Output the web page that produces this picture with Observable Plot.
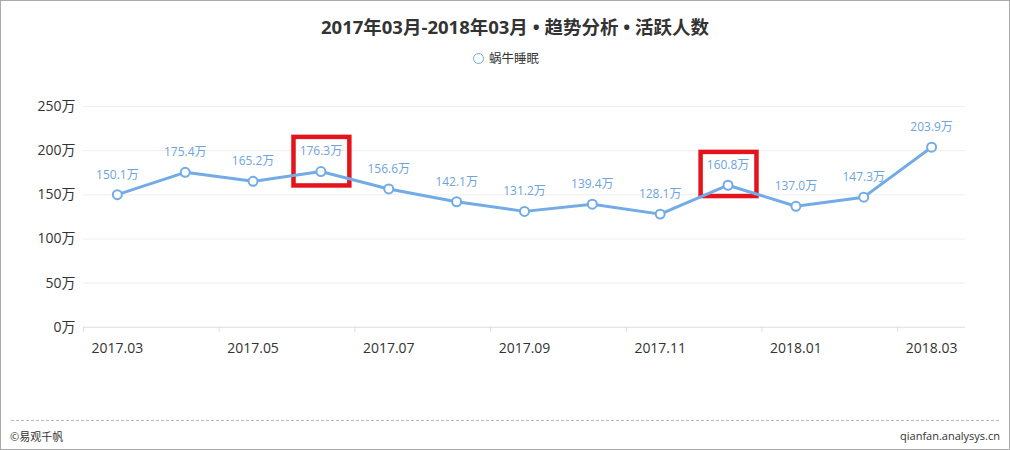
<!DOCTYPE html>
<html>
<head>
<meta charset="utf-8">
<script src="https://cdn.jsdelivr.net/npm/d3@7"></script>
<script src="https://cdn.jsdelivr.net/npm/@observablehq/plot@0.6"></script>
<style>
  html, body { margin: 0; padding: 0; background: #fff; }
  #frame { position: relative; width: 1010px; height: 450px; box-sizing: border-box; border: 1px solid #aaa; background: #fff;
    font-family: "Open Sans", "Noto Sans CJK SC", sans-serif; color: #333; overflow: hidden; }
  #title { position: absolute; top: 12px; left: 0; width: 1010px; text-align: center; font-size: 18.5px; font-weight: bold; color: #333; padding-left: 18px; box-sizing: border-box; }
  #legend { position: absolute; top: 47px; left: 0; width: 1010px; text-align: center; font-size: 12.5px; color: #333; }
  #legend .dot { display: inline-block; width: 9px; height: 9px; border: 1.5px solid #72abe6; border-radius: 50%; vertical-align: -1px; margin-right: 5px; }
  #chart { position: absolute; top: 79px; left: -1px; }
  #footline { position: absolute; top: 419px; left: 10px; width: 988px; border-top: 1px dashed #bbb; }
  #fleft { position: absolute; top: 427px; left: 9px; font-size: 11px; color: #333; }
  #fright { position: absolute; top: 427px; right: 9px; font-size: 11px; color: #333; }
</style>
</head>
<body>
<div id="frame">
  <div id="title">2017年03月-2018年03月 • 趋势分析 • 活跃人数</div>
  <div id="legend"><span class="dot"></span>蜗牛睡眠</div>
  <div id="chart"></div>
  <div id="footline"></div>
  <div id="fleft">©易观千帆</div>
  <div id="fright">qianfan.analysys.cn</div>
</div>
<script>
const categories = ["2017.03","2017.04","2017.05","2017.06","2017.07","2017.08","2017.09","2017.10","2017.11","2017.12","2018.01","2018.02","2018.03"];
const values = [150.1, 175.4, 165.2, 176.3, 156.6, 142.1, 131.2, 139.4, 128.1, 160.8, 137.0, 147.3, 203.9];
const yTicks = [0, 50, 100, 150, 200, 250];
const xTickLabels = ["2017.03","2017.05","2017.07","2017.09","2017.11","2018.01","2018.03"];
const highlightCats = ["2017.06", "2017.12"];
const highlightLow = [160, 148];
const highlightHigh = [215, 198];

const data = categories.map((c, i) => ({cat: c, v: values[i]}));
const boxes = highlightCats.map((c, i) => ({cat: c, y1: highlightLow[i], y2: highlightHigh[i]}));

const W = 1010, H = 290, ML = 83, MR = 44;
const band = (W - ML - MR) / categories.length;
const blue = "#72abe6";

const chart = Plot.plot({
  width: W, height: H,
  marginLeft: ML, marginRight: MR, marginTop: 26, marginBottom: 43,
  style: {fontFamily: '"Open Sans", "Noto Sans CJK SC", sans-serif', fontSize: "13px", color: "#333", background: "#fff"},
  x: {type: "band", domain: categories, padding: 0, round: false, axis: null},
  y: {domain: [0, 250], axis: null},
  marks: [
    Plot.gridY(yTicks.slice(1), {stroke: "#eeeeee", strokeOpacity: 1}),
    Plot.ruleY([0], {stroke: "#dddddd"}),
    Plot.axisY(yTicks, {tickSize: 0, tickPadding: 8, tickFormat: d => d + "万", fontSize: 14, fill: "#333", label: null}),
    Plot.axisX(xTickLabels, {tickSize: 0, tickPadding: 16, fontSize: 14, fill: "#333", label: null}),
    Plot.axisX(xTickLabels, {tickSize: 5, text: null, dx: -band / 2, stroke: "#dddddd", label: null}),
    Plot.barY(boxes, {x: "cat", y1: "y1", y2: "y2", fill: "none", stroke: "#e3141c", strokeWidth: 4.5, insetLeft: 7, insetRight: 5}),
    Plot.lineY(data, {x: "cat", y: "v", stroke: blue, strokeWidth: 3}),
    Plot.dot(data, {x: "cat", y: "v", r: 4.5, fill: "#fff", stroke: blue, strokeWidth: 2}),
    Plot.text(data, {x: "cat", y: "v", text: d => d.v.toFixed(1) + "万", dy: -20, fill: "#6ea3dc", fontSize: 12})
  ]
});

document.getElementById("chart").appendChild(chart);
</script>
</body>
</html>
